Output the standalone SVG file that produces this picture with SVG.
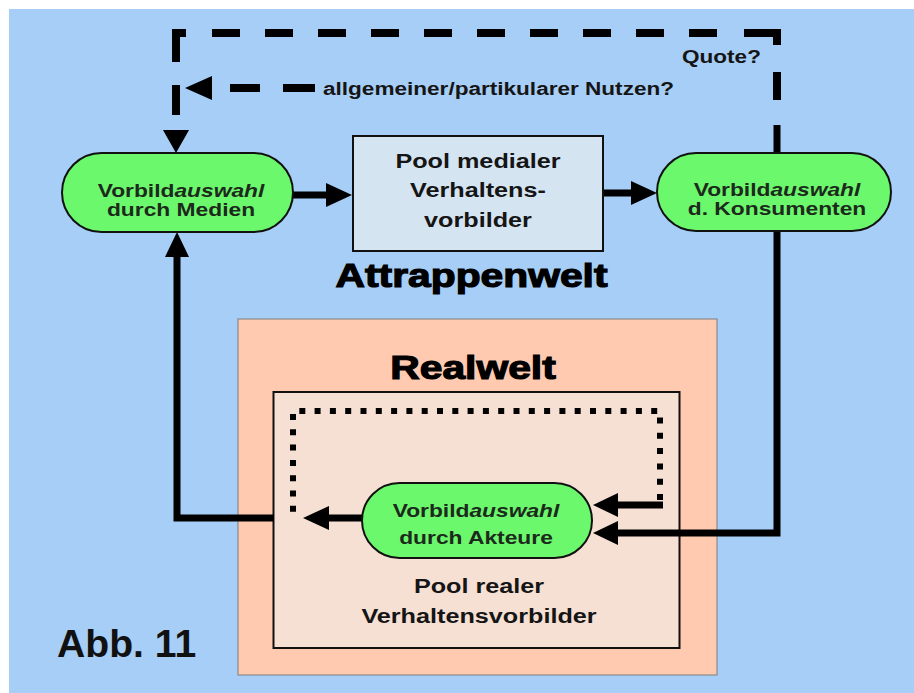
<svg xmlns="http://www.w3.org/2000/svg" width="914" height="693" viewBox="0 0 914 693">
<style>
  text { font-family: "Liberation Sans", Arial, sans-serif; font-weight: bold; fill: #111; }
  .pill { fill: #6CF86C; stroke: #111; stroke-width: 2; }
  .ptxt { font-size: 19px; fill: #1c2a1c; text-anchor: middle; }
  .it { font-style: italic; }
  .btxt { font-size: 21px; text-anchor: middle; fill: #151515; }
  .title { font-size: 34px; text-anchor: middle; stroke: #000; stroke-width: 1.2; fill: #000; }
  .lbl { font-size: 18.5px; fill: #151515; }
  .solid { fill: none; stroke: #000; stroke-width: 7; stroke-linejoin: miter; }
  .dash { fill: none; stroke: #000; stroke-width: 8; stroke-linejoin: miter; }
  .dot { fill: none; stroke: #000; stroke-width: 6; stroke-dasharray: 6 9.3; }
  .head { fill: #000; }
</style>
<rect x="0" y="0" width="914" height="693" fill="#ffffff"/>
<rect x="9" y="9" width="905" height="684" fill="#A6CEF6"/>

<g id="realwelt">
  <rect x="238" y="319" width="479" height="356" fill="#FFCAB0" stroke="#8a8a8a" stroke-width="1.2"/>
  <text class="title" transform="translate(473,379) scale(1.2,1)">Realwelt</text>
</g>
<g id="pool-real">
  <rect x="273.5" y="392" width="406" height="256" fill="#F6DFD3" stroke="#111" stroke-width="2"/>
  <text class="btxt" transform="translate(479,593) scale(1.2,1)">Pool realer</text>
  <text class="btxt" transform="translate(479,623) scale(1.2,1)">Verhaltensvorbilder</text>
</g>

<g id="attrappenwelt">
  <text class="title" transform="translate(471.5,287) scale(1.2,1)">Attrappenwelt</text>
</g>

<g id="connectors">
  <!-- dashed feedback loop (Quote?) -->
  <path class="dash" d="M176,115 V85 M176,62 V33 H186 M212,33 H240 M265,33 H293 M318,33 H346 M371,33 H399 M424,33 H452 M477,33 H505 M530,33 H558 M583,33 H611 M636,33 H664 M689,33 H717 M744,33 H777 V45 M777,72 V100"/>
  <polygon class="head" points="163,130 189,130 176,153"/>
  <!-- dashed arrow left -->
  <path class="dash" d="M230,88 H260 M283,88 H315"/>
  <polygon class="head" points="185,88 212,76 212,100"/>
  <!-- Medien -> Pool -->
  <path class="solid" d="M292,195 H328"/>
  <polygon class="head" points="352,195 326,183 326,207"/>
  <!-- Pool -> Konsumenten -->
  <path class="solid" d="M602,193 H633"/>
  <polygon class="head" points="657,193 631,181 631,205"/>
  <!-- Konsumenten -> Akteure -->
  <path class="solid" d="M777,125 V533 H615"/>
  <polygon class="head" points="593,533 618,521 618,545"/>
  <!-- dotted feedback inside pool -->
  <path class="dot" d="M660,500 V411 H293 V520"/>
  <path class="solid" d="M663,505 H615"/>
  <polygon class="head" points="593,505 618,493 618,517"/>
  <!-- Akteure -> left -->
  <path class="solid" d="M364,518 H326"/>
  <polygon class="head" points="303,518 329,506 329,530"/>
  <!-- Pool real -> Medien -->
  <path class="solid" d="M274,518 H177 V254"/>
  <polygon class="head" points="177,232 165,257 189,257"/>
  <!-- labels -->
  <text class="lbl" transform="translate(323,95) scale(1.22,1)">allgemeiner/partikularer Nutzen?</text>
  <text class="lbl" transform="translate(682,63) scale(1.22,1)">Quote?</text>
</g>

<g id="medien">
  <rect class="pill" x="62" y="153" width="231" height="79" rx="39.5"/>
  <text class="ptxt" transform="translate(181,197) scale(1.2,1)">Vorbild<tspan class="it">auswahl</tspan></text>
  <text class="ptxt" transform="translate(181,216) scale(1.2,1)">durch Medien</text>
</g>

<g id="pool-medial">
  <rect x="353" y="136" width="250" height="115" fill="#D4E4F1" stroke="#111" stroke-width="2"/>
  <text class="btxt" transform="translate(478,168) scale(1.2,1)">Pool medialer</text>
  <text class="btxt" transform="translate(478,197) scale(1.2,1)">Verhaltens-</text>
  <text class="btxt" transform="translate(478,227) scale(1.2,1)">vorbilder</text>
</g>

<g id="konsumenten">
  <rect class="pill" x="657" y="153" width="234" height="78" rx="39"/>
  <text class="ptxt" transform="translate(777,196) scale(1.2,1)">Vorbild<tspan class="it">auswahl</tspan></text>
  <text class="ptxt" transform="translate(777,215) scale(1.2,1)">d. Konsumenten</text>
</g>

<g id="akteure">
  <rect class="pill" x="362" y="483" width="230" height="75" rx="37.5"/>
  <text class="ptxt" transform="translate(476,517) scale(1.2,1)">Vorbild<tspan class="it">auswahl</tspan></text>
  <text class="ptxt" transform="translate(476,544) scale(1.2,1)">durch Akteure</text>
</g>

<g id="abb">
  <text transform="translate(57,657) scale(1.03,1)" style="font-size:38px;fill:#111">Abb. 11</text>
</g>
</svg>
